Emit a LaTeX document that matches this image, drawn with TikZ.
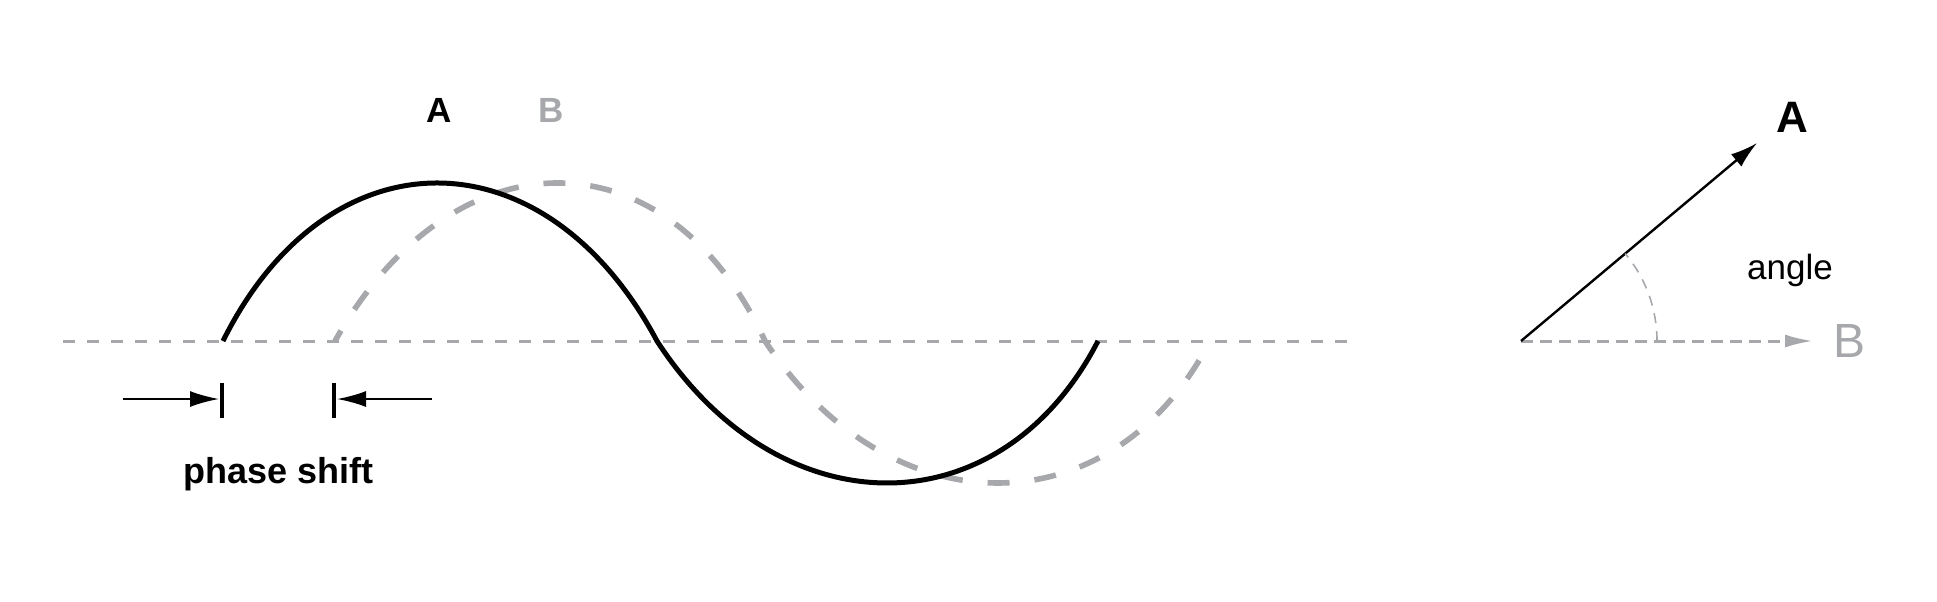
\documentclass[tikz,border=0pt]{standalone}
\usepackage{fontspec}
\setmainfont{Liberation Sans}
\usetikzlibrary{arrows.meta,positioning}
\definecolor{wavegray}{RGB}{167,168,172}
\begin{document}
\begin{tikzpicture}[x=0.5pt,y=-0.5pt,
wavea/.style={line width=2.5pt},
waveb/.style={line width=2.8pt,wavegray,dash pattern=on 11pt off 12.5pt,dash phase=5pt},
axis/.style={line width=1.5pt,wavegray,dash pattern=on 6pt off 6pt},
tickline/.style={line width=2pt},
shiftarrow/.style={line width=1pt,-{Latex[length=14.5pt,width=8pt]}},
vecarrow/.style={line width=1.2pt,-{Latex[length=13.5pt,width=8pt]}},
refarrow/.style={line width=1.5pt,wavegray,dash pattern=on 6pt off 3.5pt,-{Latex[length=14pt,width=6.5pt]}},
anglearc/.style={line width=0.8pt,wavegray,dash pattern=on 5pt off 4pt},
wavelabel/.style={inner sep=0pt,font=\fontsize{17.5}{21}\selectfont\bfseries},
vectorlabel/.style={inner sep=0pt,font=\fontsize{22}{26}\selectfont},
anglelabel/.style={inner sep=0pt,font=\fontsize{17.5}{21}\selectfont}]
\useasboundingbox (0,0) rectangle (1937,601);
\coordinate(axl) at (63,341);
\coordinate(axr) at (1358,341);
\draw[axis](axl)--(axr);
\coordinate(a0) at (223,341);
\coordinate(a1) at (657,341);
\coordinate(a2) at (1098,341);
\coordinate(b0) at (335,341);
\coordinate(b1) at (765,341);
\coordinate(b2) at (1210,341);
\draw[waveb](b0)..controls(453,130.3)and(668,130.3)..(b1)
  ..controls(890,530.3)and(1112,530.3)..(b2);
\draw[wavea](a0)..controls(327.5,130.3)and(544.5,130.3)..(a1)
  ..controls(780,530.3)and(1000.5,530.3)..(a2);
\node[wavelabel](la) at (439,110.5){A};
\node[wavelabel,text=wavegray](lb) at (551,110.5){B};
\coordinate(ltop) at (222,383);
\coordinate(lbot) at (222,418);
\coordinate(rtop) at (334,383);
\coordinate(rbot) at (334,418);
\draw[tickline](ltop)--(lbot);
\draw[tickline](rtop)--(rbot);
\coordinate(lstart) at (123,399);
\coordinate(ltip) at (219,399);
\coordinate(rstart) at (432,399);
\coordinate(rtip) at (337,399);
\draw[shiftarrow](lstart)--(ltip);
\draw[shiftarrow](rstart)--(rtip);
\node[wavelabel,font=\fontsize{18}{21}\selectfont\bfseries,anchor=base](shift) at (278.5,483){phase shift};
\coordinate(o) at (1521,341);
\coordinate(atip) at (1757,143);
\coordinate(btip) at (1813,341);
\draw[refarrow](o)--(btip);
\draw[vecarrow](o)--(atip);
\draw[anglearc](o)++(68pt,0pt)arc[start angle=0,end angle=40,radius=68pt];
\node[vectorlabel,font=\fontsize{22}{26}\selectfont\bfseries](va) at (1792,117.5){A};
\node[vectorlabel,font=\fontsize{24}{28}\selectfont,text=wavegray,right=10pt of btip](vb){B};
\node[anglelabel,anchor=base](ang) at (1790,279){angle};
\end{tikzpicture}
\end{document}
